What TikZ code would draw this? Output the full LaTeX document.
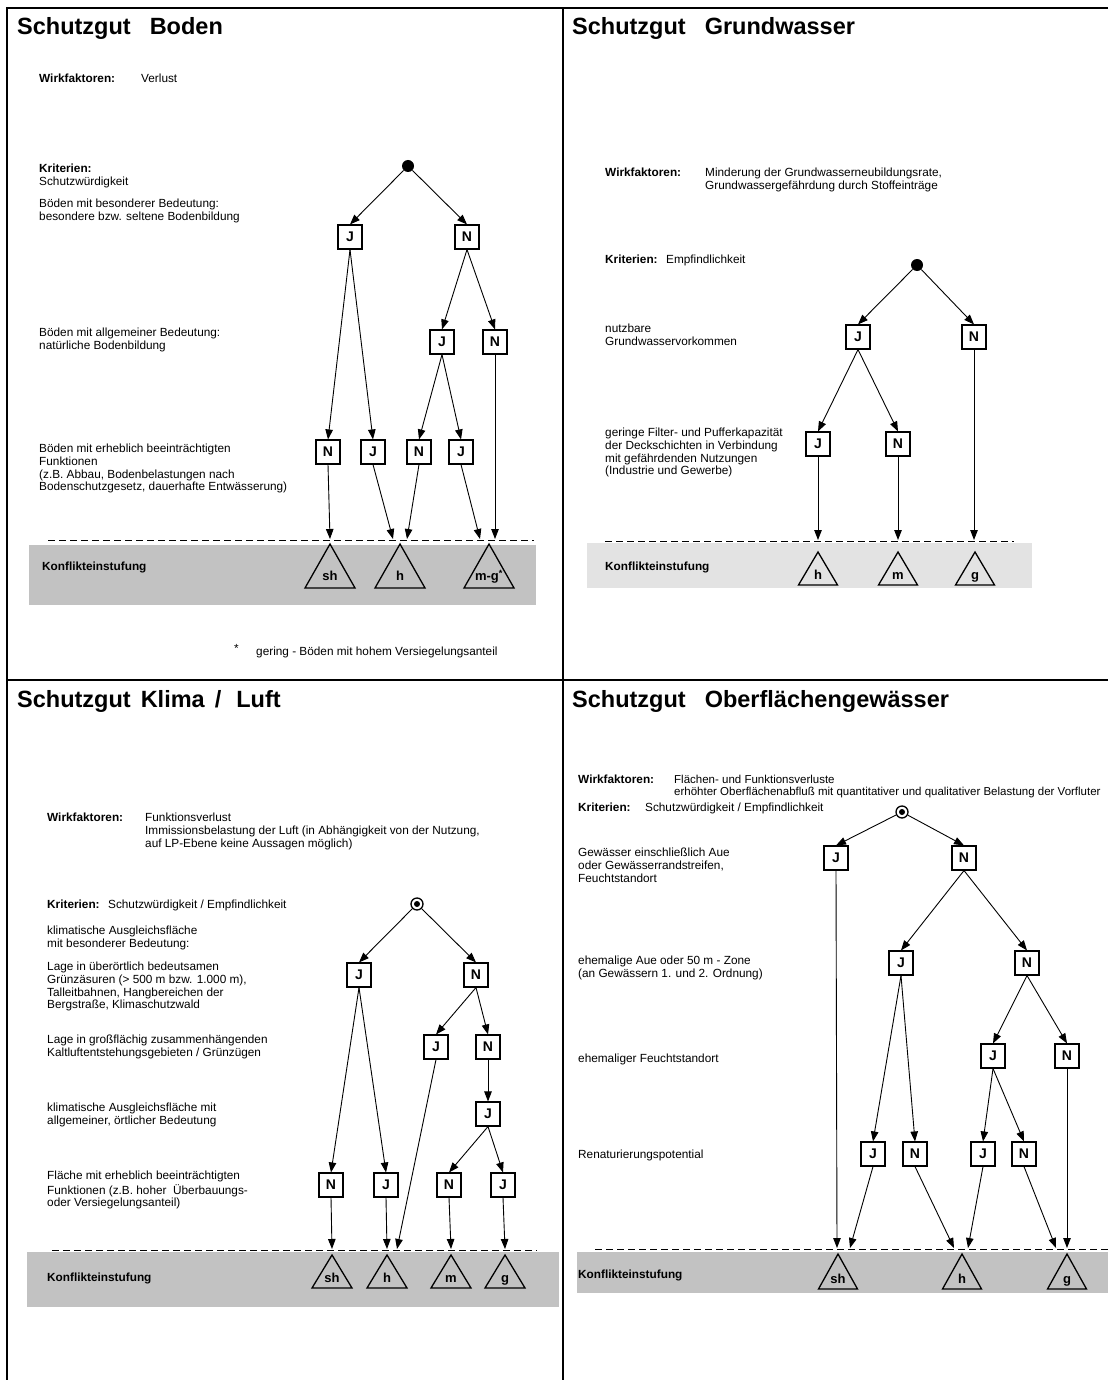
\documentclass[tikz,border=0pt]{standalone}
\usepackage{fontspec}
\setmainfont{Liberation Sans}
\usetikzlibrary{arrows.meta}
\newcommand\ktri[6]{%
  \draw[trip] (#2,#3) -- ({#2-#5},#4) -- ({#2+#5},#4) -- cycle;
  \node[trilab] (#1) at (#2,{#4-0.17*(#4-#3)}) {#6};
}
\tikzset{
  txt/.style={anchor=north west, inner sep=0pt, align=left, font=\fontsize{11.8}{12.2}\selectfont},
  ttl/.style={anchor=base west, inner sep=0pt, font=\fontsize{23.5}{27}\selectfont\bfseries},
  jn/.style={draw, line width=1.1pt, minimum size=24pt, inner sep=0pt, font=\fontsize{14}{16}\selectfont\bfseries},
  arr/.style={line width=0.9pt, -{Triangle[length=10pt,width=7.5pt]}},
  dline/.style={dash pattern=on 7pt off 4pt, line width=0.9pt},
  band/.style={fill=black!24},
  bandlight/.style={fill=black!11},
  trip/.style={line width=1.3pt, line join=miter},
  trilab/.style={anchor=base, inner sep=0pt, font=\fontsize{13}{15}\selectfont\bfseries},
  rootdot/.style={circle, fill=black, minimum size=12pt, inner sep=0pt},
  rootring/.style={circle, draw, line width=1.3pt, minimum size=12pt, inner sep=0pt,
    path picture={\fill (path picture bounding box.center) circle (3pt);}},
  frm/.style={line width=1.5pt},
}
\begin{document}
\begin{tikzpicture}[x=1pt,y=-1pt]
\useasboundingbox (0,0) rectangle (1108,1380);
\fill[white] (0,0) rectangle (1108,1380);

% ---------- frame ----------
\draw[frm] (1108,8) -- (7,8) -- (7,1380);
\draw[frm] (563,8) -- (563,1380);
\draw[frm] (7,680) -- (1108,680);

% =============== Panel 1: Boden ===============
\node[ttl] (p1t) at (17,35) {Schutzgut\hspace{19pt}Boden};
\node[txt] (p1wk) at (39,74) {\strut\bfseries Wirkfaktoren:};
\node[txt] (p1wv) at (141,74) {\strut Verlust};
\node[txt] (p1kr) at (39,164) {\strut\textbf{Kriterien:}\\Schutzwürdigkeit};
\node[txt] (p1c1) at (39,199) {\strut Böden mit besonderer Bedeutung:\\besondere bzw. seltene Bodenbildung};
\node[txt] (p1c2) at (39,328) {\strut Böden mit allgemeiner Bedeutung:\\natürliche Bodenbildung};
\node[txt] (p1c3) at (39,444) {\strut Böden mit erheblich beeinträchtigten\\Funktionen\\(z.B. Abbau, Bodenbelastungen nach\\Bodenschutzgesetz, dauerhafte Entwässerung)};

\fill[band] (29,545) rectangle (536,605);
\draw[dline] (48,540) -- (534,540);
\node[txt] (p1k) at (42,562) {\strut\bfseries Konflikteinstufung};
\ktri{p1sh}{330}{544}{588}{25}{sh}
\ktri{p1hh}{400}{544}{588}{25}{h}
\ktri{p1mg}{489}{544}{588}{25}{m-g\textsuperscript{*}}
\node[txt] (p1fs) at (234,644) {\strut *};
\node[txt] (p1fn) at (256,647) {\strut gering - Böden mit hohem Versiegelungsanteil};

\node[rootdot] (p1r) at (408,166) {};
\node[jn] (p1a) at (350,237) {J};
\node[jn] (p1b) at (467,237) {N};
\node[jn] (p1c) at (442,342) {J};
\node[jn] (p1d) at (495,342) {N};
\node[jn] (p1e) at (328,452) {N};
\node[jn] (p1f) at (373,452) {J};
\node[jn] (p1g) at (419,452) {N};
\node[jn] (p1h) at (461,452) {J};
\coordinate (p1e1) at (330,539);
\coordinate (p1e2) at (393,539);
\coordinate (p1e3) at (407,539);
\coordinate (p1e4) at (480,539);
\coordinate (p1e5) at (495,539);
\draw[arr] (p1r) -- (p1a.north);
\draw[arr] (p1r) -- (p1b.north);
\draw[arr] (p1a.south) -- (p1e.north);
\draw[arr] (p1a.south) -- (p1f.north);
\draw[arr] (p1b.south) -- (p1c.north);
\draw[arr] (p1b.south) -- (p1d.north);
\draw[arr] (p1c.south) -- (p1g.north);
\draw[arr] (p1c.south) -- (p1h.north);
\draw[arr] (p1e.south) -- (p1e1);
\draw[arr] (p1f.south) -- (p1e2);
\draw[arr] (p1g.south) -- (p1e3);
\draw[arr] (p1h.south) -- (p1e4);
\draw[arr] (p1d.south) -- (p1e5);

% =============== Panel 2: Grundwasser ===============
\node[ttl] (p2t) at (572,35) {Schutzgut\hspace{19pt}Grundwasser};
\node[txt] (p2wk) at (605,168) {\strut\bfseries Wirkfaktoren:};
\node[txt] (p2wv) at (705,168) {\strut Minderung der Grundwasserneubildungsrate,\\Grundwassergefährdung durch Stoffeinträge};
\node[txt] (p2kr) at (605,255) {\strut\textbf{Kriterien:}\hspace{8.5pt}Empfindlichkeit};
\node[txt] (p2c1) at (605,324) {\strut nutzbare\\Grundwasservorkommen};
\node[txt] (p2c2) at (605,428) {\strut geringe Filter- und Pufferkapazität\\der Deckschichten in Verbindung\\mit gefährdenden Nutzungen\\(Industrie und Gewerbe)};

\fill[bandlight] (587,543) rectangle (1032,588);
\draw[dline] (605,541) -- (1014,541);
\node[txt] (p2k) at (605,562) {\strut\bfseries Konflikteinstufung};
\ktri{p2hh}{818}{552}{585}{19.5}{h}
\ktri{p2mm}{898}{552}{585}{19.5}{m}
\ktri{p2gg}{975}{552}{585}{19.5}{g}

\node[rootdot] (p2r) at (917,265) {};
\node[jn] (p2a) at (858,337) {J};
\node[jn] (p2b) at (974,337) {N};
\node[jn] (p2c) at (818,444) {J};
\node[jn] (p2d) at (898,444) {N};
\coordinate (p2e1) at (818,540);
\coordinate (p2e2) at (898,540);
\coordinate (p2e3) at (974,540);
\draw[arr] (p2r) -- (p2a.north);
\draw[arr] (p2r) -- (p2b.north);
\draw[arr] (p2a.south) -- (p2c.north);
\draw[arr] (p2a.south) -- (p2d.north);
\draw[arr] (p2c.south) -- (p2e1);
\draw[arr] (p2d.south) -- (p2e2);
\draw[arr] (p2b.south) -- (p2e3);

% =============== Panel 3: Klima / Luft ===============
\node[ttl] (p3t) at (17,707) {Schutzgut\hspace{10pt}Klima\hspace{10pt}/\hspace{15pt}Luft};
\node[txt] (p3wk) at (47,813) {\strut\bfseries Wirkfaktoren:};
\node[txt] (p3wv) at (145,813) {\strut Funktionsverlust\\Immissionsbelastung der Luft (in Abhängigkeit von der Nutzung,\\auf LP-Ebene keine Aussagen möglich)};
\node[txt] (p3kr) at (47,900) {\strut\textbf{Kriterien:}\hspace{8.5pt}Schutzwürdigkeit / Empfindlichkeit};
\node[txt] (p3c0) at (47,926) {\strut klimatische Ausgleichsfläche\\mit besonderer Bedeutung:};
\node[txt] (p3c1) at (47,962) {\strut Lage in überörtlich bedeutsamen\\Grünzäsuren (> 500 m bzw. 1.000 m),\\Talleitbahnen, Hangbereichen der\\Bergstraße, Klimaschutzwald};
\node[txt] (p3c2) at (47,1035) {\strut Lage in großflächig zusammenhängenden\\Kaltluftentstehungsgebieten / Grünzügen};
\node[txt] (p3c3) at (47,1103) {\strut klimatische Ausgleichsfläche mit\\allgemeiner, örtlicher Bedeutung};
\node[txt] (p3c4) at (47,1171) {\strut Fläche mit erheblich beeinträchtigten\\Funktionen (z.B. hoher\ \ Überbauungs-\\oder Versiegelungsanteil)};

\fill[band] (27,1252) rectangle (559,1307);
\draw[dline] (52,1250) -- (537,1250);
\node[txt] (p3k) at (47,1273) {\strut\bfseries Konflikteinstufung};
\ktri{p3sh}{332}{1255}{1288}{20}{sh}
\ktri{p3hh}{387}{1255}{1288}{20}{h}
\ktri{p3mm}{451}{1255}{1288}{20}{m}
\ktri{p3gg}{505}{1255}{1288}{20}{g}

\node[rootring] (p3r) at (417,904) {};
\node[jn] (p3a) at (359,975) {J};
\node[jn] (p3b) at (476,975) {N};
\node[jn] (p3c) at (436,1047) {J};
\node[jn] (p3d) at (488,1047) {N};
\node[jn] (p3e) at (488,1114) {J};
\node[jn] (p3f) at (331,1185) {N};
\node[jn] (p3g) at (386,1185) {J};
\node[jn] (p3h) at (449,1185) {N};
\node[jn] (p3i) at (503,1185) {J};
\coordinate (p3e1) at (332,1249);
\coordinate (p3e2) at (387,1249);
\coordinate (p3e3) at (397,1249);
\coordinate (p3e4) at (451,1249);
\coordinate (p3e5) at (505,1249);
\draw[arr] (p3r) -- (p3a.north);
\draw[arr] (p3r) -- (p3b.north);
\draw[arr] (p3a.south) -- (p3f.north);
\draw[arr] (p3a.south) -- (p3g.north);
\draw[arr] (p3b.south) -- (p3c.north);
\draw[arr] (p3b.south) -- (p3d.north);
\draw[arr] (p3d.south) -- (p3e.north);
\draw[arr] (p3e.south) -- (p3h.north);
\draw[arr] (p3e.south) -- (p3i.north);
\draw[arr] (p3f.south) -- (p3e1);
\draw[arr] (p3g.south) -- (p3e2);
\draw[arr] (p3c.south) -- (p3e3);
\draw[arr] (p3h.south) -- (p3e4);
\draw[arr] (p3i.south) -- (p3e5);

% =============== Panel 4: Oberflaechengewaesser ===============
\node[ttl] (p4t) at (572,707) {Schutzgut\hspace{19pt}Oberflächengewässer};
\node[txt] (p4wk) at (578,775) {\strut\bfseries Wirkfaktoren:};
\node[txt, font=\fontsize{11.5}{12.2}\selectfont] (p4wv) at (674,775) {\strut Flächen- und Funktionsverluste\\erhöhter Oberflächenabfluß mit quantitativer und qualitativer Belastung der Vorfluter};
\node[txt] (p4kr) at (578,803) {\strut\textbf{Kriterien:}\hspace{14.5pt}Schutzwürdigkeit / Empfindlichkeit};
\node[txt] (p4c1) at (578,848) {\strut Gewässer einschließlich Aue\\oder Gewässerrandstreifen,\\Feuchtstandort};
\node[txt] (p4c2) at (578,956) {\strut ehemalige Aue oder 50 m - Zone\\(an Gewässern 1. und 2. Ordnung)};
\node[txt] (p4c3) at (578,1054) {\strut ehemaliger Feuchtstandort};
\node[txt] (p4c4) at (578,1150) {\strut Renaturierungspotential};

\fill[band] (577,1252) rectangle (1108,1293);
\draw[dline] (595,1249) -- (1108,1249);
\node[txt] (p4k) at (578,1270) {\strut\bfseries Konflikteinstufung};
\ktri{p4sh}{838}{1254}{1289}{19.5}{sh}
\ktri{p4hh}{962}{1254}{1289}{19.5}{h}
\ktri{p4gg}{1067}{1254}{1289}{19.5}{g}

\node[rootring] (p4r) at (902,812) {};
\node[jn] (p4a) at (836,858) {J};
\node[jn] (p4b) at (964,858) {N};
\node[jn] (p4c) at (901,963) {J};
\node[jn] (p4d) at (1027,963) {N};
\node[jn] (p4e) at (993,1056) {J};
\node[jn] (p4f) at (1067,1056) {N};
\node[jn] (p4g) at (873,1154) {J};
\node[jn] (p4h) at (915,1154) {N};
\node[jn] (p4i) at (983,1154) {J};
\node[jn] (p4j) at (1024,1154) {N};
\coordinate (p4e1) at (837,1248);
\coordinate (p4e2) at (850,1248);
\coordinate (p4e3) at (954,1248);
\coordinate (p4e4) at (968,1248);
\coordinate (p4e5) at (1056,1248);
\coordinate (p4e6) at (1067,1248);
\draw[arr] (p4r) -- (p4a.north);
\draw[arr] (p4r) -- (p4b.north);
\draw[arr] (p4b.south) -- (p4c.north);
\draw[arr] (p4b.south) -- (p4d.north);
\draw[arr] (p4c.south) -- (p4g.north);
\draw[arr] (p4c.south) -- (p4h.north);
\draw[arr] (p4d.south) -- (p4e.north);
\draw[arr] (p4d.south) -- (p4f.north);
\draw[arr] (p4e.south) -- (p4i.north);
\draw[arr] (p4e.south) -- (p4j.north);
\draw[arr] (p4a.south) -- (p4e1);
\draw[arr] (p4g.south) -- (p4e2);
\draw[arr] (p4h.south) -- (p4e3);
\draw[arr] (p4i.south) -- (p4e4);
\draw[arr] (p4j.south) -- (p4e5);
\draw[arr] (p4f.south) -- (p4e6);
\end{tikzpicture}
\end{document}
